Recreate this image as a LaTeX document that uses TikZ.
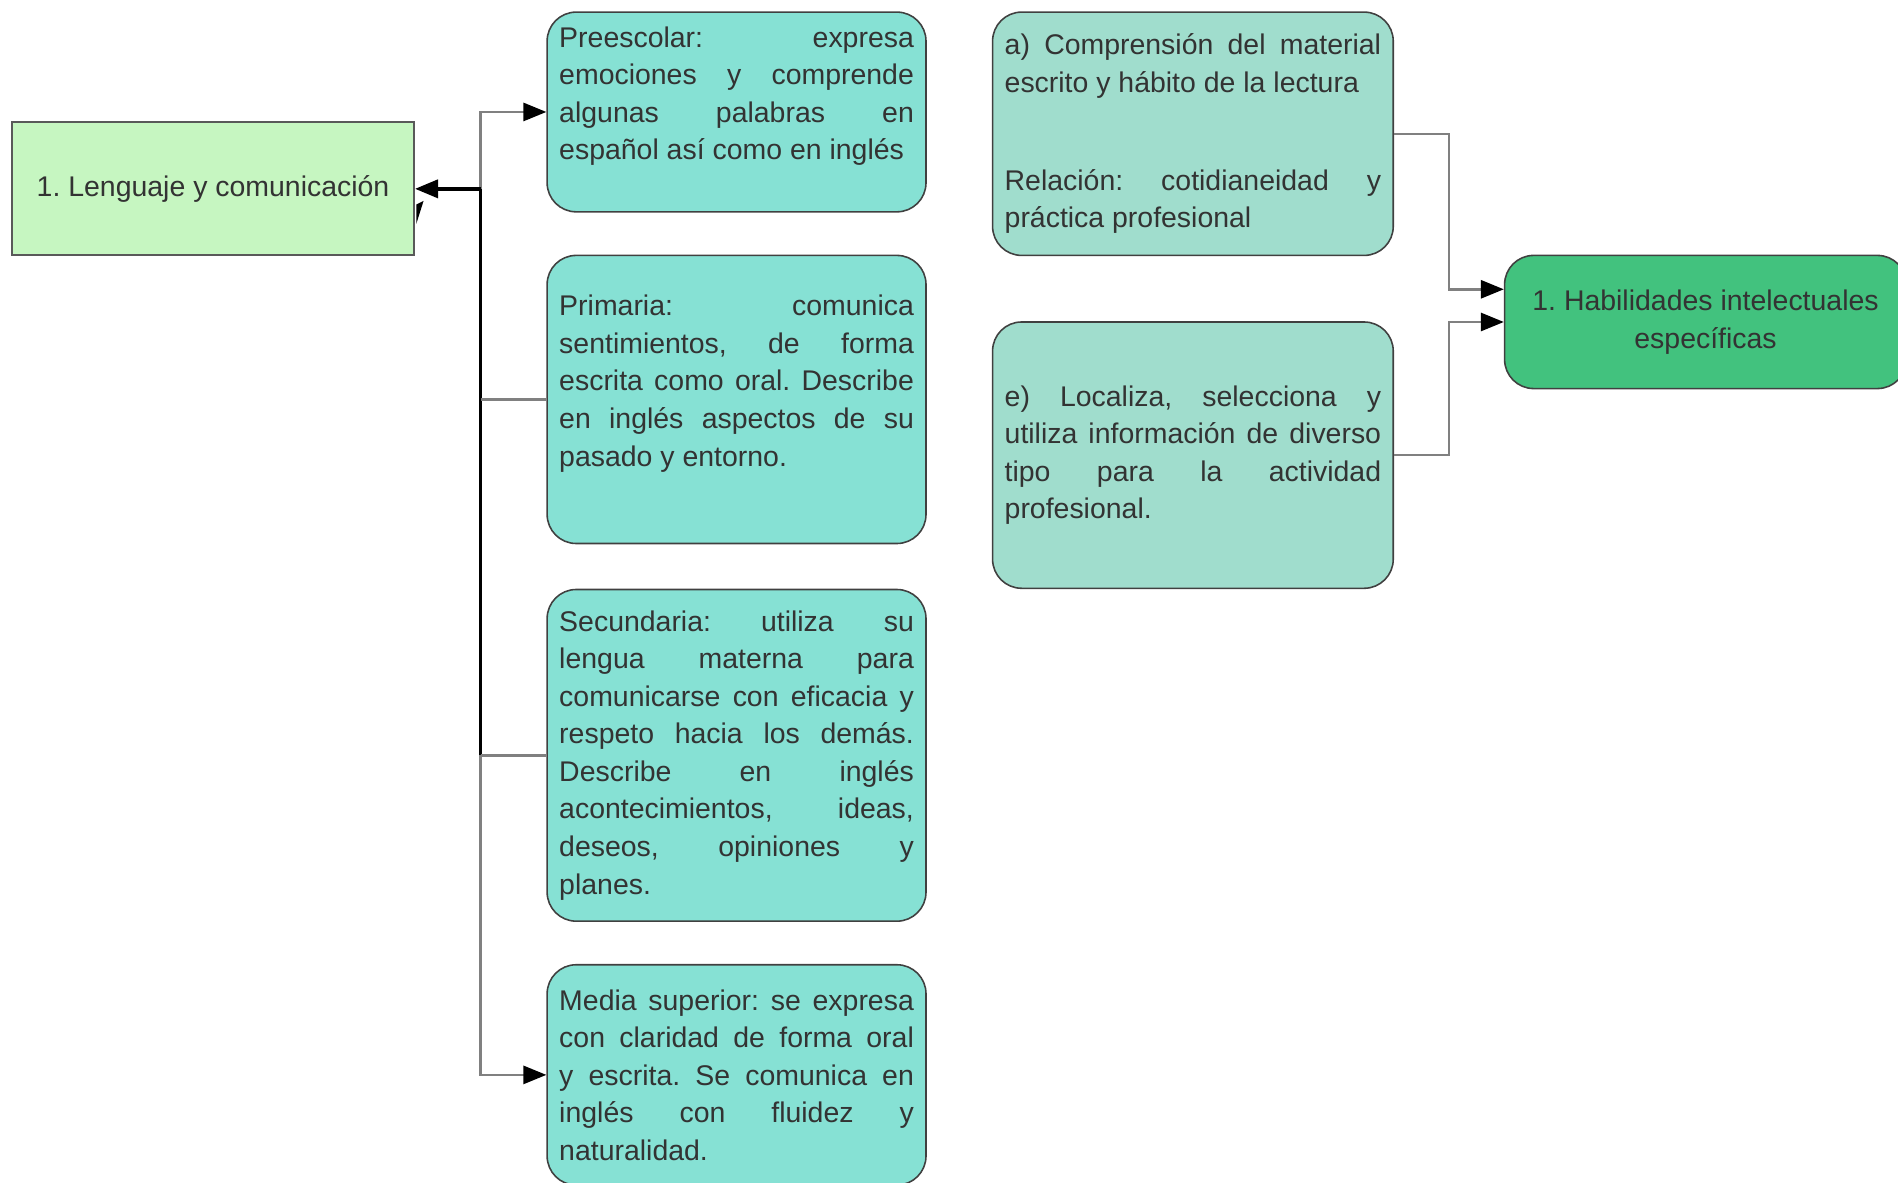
\documentclass[tikz,border=0pt]{standalone}
\usepackage{fontspec}
\setmainfont{Liberation Sans}
\usetikzlibrary{arrows.meta}
\definecolor{verdeclaro}{RGB}{198,246,193}
\definecolor{turquesa}{RGB}{134,225,212}
\definecolor{menta}{RGB}{160,221,205}
\definecolor{verde}{RGB}{66,194,126}
\newcommand{\letra}{\fontsize{23.5pt}{31pt}\selectfont}
\tolerance=10000
\hyphenpenalty=10000
\parindent=0pt
\frenchspacing
\begin{document}
\begin{tikzpicture}[x=1pt,y=-1pt,
    caja/.style={draw=black!75,line width=1.3pt,text=black!80,font=\letra,inner ysep=0pt,inner xsep=10pt},
    nivel/.style={caja,rounded corners=24pt,fill=turquesa,text width=293pt,align=justify},
    rasgo/.style={caja,rounded corners=24pt,fill=menta,text width=311pt,align=justify},
    linea/.style={draw=black!50,line width=2pt},
    grueso/.style={draw=black,line width=2.8pt},
    flecha/.style={-{Triangle[length=19pt,width=15pt,color=black]}}]
    \useasboundingbox (0,0) rectangle (1568,977);
    \clip (0,0) rectangle (1568,977);
    \node[caja,fill=verdeclaro,draw=black!65,line width=1.8pt,minimum width=332pt,minimum height=110pt] (len) at (176,156) {1. Lenguaje y comunicación};
    \node[nivel,minimum height=165pt] (pre) at (608.5,92.5) {Preescolar: expresa\linebreak emociones y comprende\linebreak algunas palabras en\linebreak español así como en inglés\\\mbox{}};
    \node[nivel,minimum height=238pt] (pri) at (608.5,330) {Primaria: comunica\linebreak sentimientos, de forma\linebreak escrita como oral. Describe\linebreak en inglés aspectos de su\linebreak pasado y entorno.\\\mbox{}};
    \node[nivel,minimum height=274pt] (sec) at (608.5,624) {Secundaria: utiliza su\linebreak lengua materna para\linebreak comunicarse con eficacia y\linebreak respeto hacia los demás.\linebreak Describe en inglés\linebreak acontecimientos, ideas,\linebreak deseos, opiniones y\linebreak planes.};
    \node[nivel,minimum height=182pt] (med) at (608.5,888) {Media superior: se expresa\linebreak con claridad de forma oral\linebreak y escrita. Se comunica en\linebreak inglés con fluidez y\linebreak naturalidad.};
    \node[rasgo,minimum height=201pt] (com) at (985.5,110.5) {a) Comprensión del material\linebreak escrito y hábito de la lectura\\[50pt]Relación: cotidianeidad y\linebreak práctica profesional};
    \node[rasgo,minimum height=220pt] (loc) at (985.5,376) {e) Localiza, selecciona y\linebreak utiliza información de diverso\linebreak tipo para la actividad\linebreak profesional.};
    \node[caja,rounded corners=24pt,fill=verde,minimum width=332pt,minimum height=110pt,align=center] (hab) at (1409,266) {1. Habilidades intelectuales\\específicas};
    \coordinate (j1) at (397,156);
    \coordinate (j2) at (1197,0);
    \draw[linea,flecha] (j1) |- (pre.west);
    \draw[grueso] (j1 |- sec.west) -- (j1);
    \draw[grueso,flecha] (j1) -- (len.east);
    \fill[black] ([xshift=1pt,yshift=-29pt]len.east) -- ([xshift=7pt,yshift=-10pt]len.east) -- ([xshift=1pt,yshift=-13pt]len.east) -- cycle;
    \draw[linea] (j1 |- pri.west) -- (pri.west);
    \draw[linea] (j1 |- sec.west) -- (sec.west);
    \draw[linea,flecha] (j1 |- sec.west) |- (med.west);
    \draw[linea,flecha] (com.east) -- (j2 |- com.east) |- ([yshift=27pt]hab.west);
    \draw[linea,flecha] (loc.east) -- (j2 |- loc.east) |- (hab.west);
\end{tikzpicture}
\end{document}
